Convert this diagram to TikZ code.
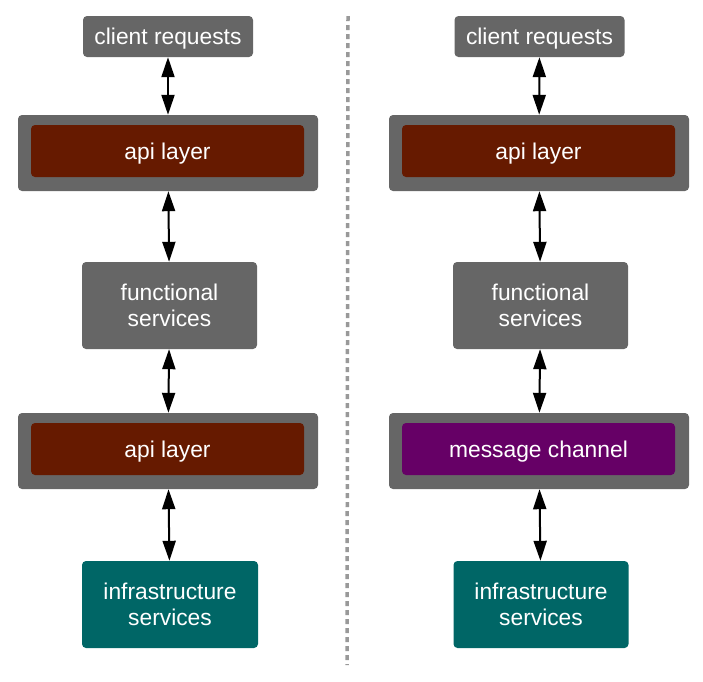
\documentclass[tikz,border=0pt]{standalone}
\usepackage{fontspec}
\setmainfont{Liberation Sans}
\usetikzlibrary{arrows.meta}
\definecolor{boxgray}{HTML}{666666}
\definecolor{apired}{HTML}{661A00}
\definecolor{chanpurple}{HTML}{660066}
\definecolor{infrateal}{HTML}{006666}
\definecolor{splitgray}{HTML}{999999}
\begin{document}
\begin{tikzpicture}[x=1pt,y=1pt,
    box/.style={rounded corners=4pt, text=white, align=center, inner sep=0pt,
        font=\fontsize{22.8}{26}\selectfont},
    oneline/.style={text depth=0pt},
    graybox/.style={box, fill=boxgray},
    layer/.style={box, fill=boxgray, minimum width=300pt, minimum height=76pt},
    inlayer/.style={box, oneline, minimum width=273pt, minimum height=52pt},
    link/.style={{Triangle[length=20pt,width=13pt]}-{Triangle[length=20pt,width=13pt]}, line width=2pt}]
    \useasboundingbox (0,0) rectangle (703,-681);
    % left stack
    \node (reqA) [graybox, oneline, minimum width=170pt, minimum height=41pt] at (168,-36.5) {client requests};
    \node (apiA) [layer] at (168,-153) {};
    \node (apiAin) [inlayer, fill=apired] at (167.5,-151) {api layer};
    \node (funA) [graybox, minimum width=175pt, minimum height=87pt] at (169.5,-305.5) {functional\\ services};
    \node (apiB) [layer] at (168,-451) {};
    \node (apiBin) [inlayer, fill=apired] at (167.5,-449) {api layer};
    \node (infA) [box, fill=infrateal, minimum width=176pt, minimum height=87pt] at (170,-604.5) {infrastructure\\ services};
    % right stack
    \node (reqB) [graybox, oneline, minimum width=170pt, minimum height=41pt] at (539.5,-36.5) {client requests};
    \node (apiC) [layer] at (539,-153) {};
    \node (apiCin) [inlayer, fill=apired] at (538.5,-151) {api layer};
    \node (funB) [graybox, minimum width=175pt, minimum height=87pt] at (540.5,-305.5) {functional\\ services};
    \node (chan) [layer] at (539,-451) {};
    \node (chanin) [inlayer, fill=chanpurple] at (538.5,-449) {message channel};
    \node (infB) [box, fill=infrateal, minimum width=175pt, minimum height=87pt] at (541,-604.5) {infrastructure\\ services};
    % connectors
    \draw[link] (reqA) -- (apiA);
    \draw[link] (apiA) -- (funA);
    \draw[link] (funA) -- (apiB);
    \draw[link] (apiB) -- (infA);
    \draw[link] (reqB) -- (apiC);
    \draw[link] (apiC) -- (funB);
    \draw[link] (funB) -- (chan);
    \draw[link] (chan) -- (infB);
    % divider
    \coordinate (topcut) at (348,-16);
    \coordinate (botcut) at (347,-665);
    \draw[splitgray, line width=3.5pt, dash pattern=on 5pt off 4pt] (topcut) -- (botcut);
\end{tikzpicture}
\end{document}
